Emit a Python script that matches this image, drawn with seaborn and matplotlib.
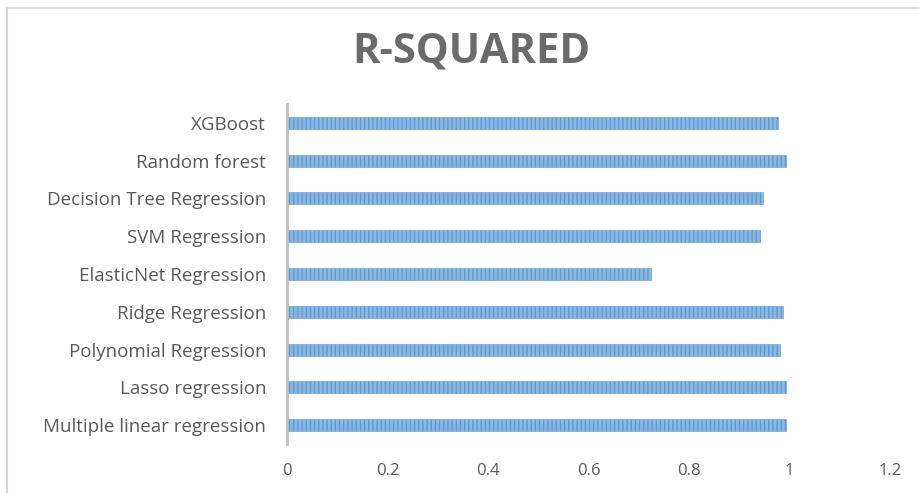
import matplotlib
matplotlib.use("Agg")
import matplotlib.pyplot as plt
import seaborn as sns
import pandas as pd
from matplotlib.patches import Rectangle

# Model names, listed top to bottom
models = [
    "XGBoost",
    "Random forest",
    "Decision Tree Regression",
    "SVM Regression",
    "ElasticNet Regression",
    "Ridge Regression",
    "Polynomial Regression",
    "Lasso regression",
    "Multiple linear regression",
]
r_squared = [0.977, 0.993, 0.947, 0.941, 0.724, 0.987, 0.981, 0.993, 0.993]
x_ticks = [0, 0.2, 0.4, 0.6, 0.8, 1, 1.2]
x_tick_labels = ["0", "0.2", "0.4", "0.6", "0.8", "1", "1.2"]

df = pd.DataFrame({"model": models, "r2": r_squared})

sns.set_theme(style="white")
plt.rcParams["font.family"] = ["Open Sans", "DejaVu Sans"]
plt.rcParams["hatch.linewidth"] = 1.0

text_grey = "#595959"

fig = plt.figure(figsize=(9.19, 4.93), dpi=100)
ax = fig.add_axes([0.3123, 0.0994, 0.6561, 0.6897])

sns.barplot(
    data=df, x="r2", y="model", order=models, orient="h",
    color="#8db8e2", width=0.32, ax=ax, saturation=1,
)
for bar in ax.patches:
    bar.set_hatch("||||")
    bar.set_edgecolor("#5b9bd5")
    bar.set_linewidth(0.4)

ax.set_xlim(0, 1.2)
ax.set_ylim(len(models) - 0.5, -0.5)
ax.set_xticks(x_ticks)
ax.set_xticklabels(x_tick_labels)
ax.set_xlabel("")
ax.set_ylabel("")

for side in ["top", "right", "bottom"]:
    ax.spines[side].set_visible(False)
ax.spines["left"].set_color("#bfbfbf")
ax.spines["left"].set_linewidth(2.0)

ax.tick_params(axis="x", length=0, pad=14, labelsize=12, labelcolor=text_grey)
ax.tick_params(axis="y", length=0, pad=15, labelsize=13.5, labelcolor=text_grey)

fig.text(0.5126, 0.895, "R-SQUARED", ha="center", va="center",
         fontsize=30, fontweight="bold", color="#6b6b6b")

# light frame around the chart area
fig.patches.append(Rectangle((7 / 919, -0.1), 1.2, 1 - 8 / 493 + 0.1,
                             transform=fig.transFigure, fill=False,
                             edgecolor="#d9d9d9", linewidth=1.5))

fig.savefig("out.png", dpi=100, facecolor="white")
